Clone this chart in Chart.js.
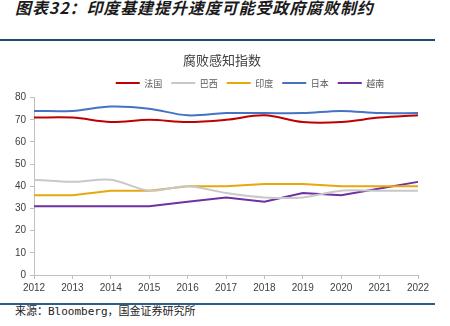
<!DOCTYPE html>
<html>
<head>
<meta charset="utf-8">
<script src="https://cdn.jsdelivr.net/npm/chart.js@4"></script>
<style>
  body { margin: 0; background: #fff; }
  #page { position: relative; width: 450px; height: 326px; overflow: hidden; }
  #head { position: absolute; left: 15px; top: -1px; font: italic bold 16px "Noto Sans CJK SC", sans-serif; letter-spacing: 0.9px; line-height: 17px; color: #1a1a1a; white-space: nowrap; }
  .rule { position: absolute; left: 0; width: 435px; height: 2px; }
  #ruleTop { top: 39px; background: #1f4a6e; }
  #ruleBottom { top: 303px; background: #2a5f8c; }
  #box { position: absolute; left: 0; top: 42px; }
  #src { position: absolute; left: 15px; top: 305px; font: 11px "DejaVu Sans Mono", "Noto Sans CJK SC", monospace; line-height: 14px; color: #222; white-space: nowrap; }
</style>
</head>
<body>
<div id="page">
  <div id="head">图表32：印度基建提升速度可能受政府腐败制约</div>
  <div class="rule" id="ruleTop"></div>
  <div id="box"><canvas id="chart" width="450" height="258"></canvas></div>
  <div class="rule" id="ruleBottom"></div>
  <div id="src">来源：Bloomberg，国金证券研究所</div>
</div>
<script>
const years = ["2012", "2013", "2014", "2015", "2016", "2017", "2018", "2019", "2020", "2021", "2022"];
const france = [71, 71, 69, 70, 69, 70, 72, 69, 69, 71, 72];
const brazil = [43, 42, 43, 38, 40, 37, 35, 35, 38, 38, 38];
const india = [36, 36, 38, 38, 40, 40, 41, 41, 40, 40, 40];
const japan = [74, 74, 76, 75, 72, 73, 73, 73, 74, 73, 73];
const vietnam = [31, 31, 31, 31, 33, 35, 33, 37, 36, 39, 42];
const yTicks = [0, 10, 20, 30, 40, 50, 60, 70, 80];

const axisColor = "#bfbfbf";
const tickFont = { family: "'Liberation Sans', Arial, sans-serif", size: 10 };

function series(label, data, color, tension) {
  return {
    label: label,
    data: data,
    borderColor: color,
    backgroundColor: color,
    borderWidth: 2,
    pointRadius: 0,
    tension: tension,
  };
}

// タイトルと凡例を横方向に少しずらす
const headerShift = {
  id: "headerShift",
  afterLayout(chart) {
    chart.titleBlock.left += 13;
    chart.titleBlock.right += 13;
    chart.legend.left += 41;
    chart.legend.right += 41;
  },
};

new Chart(document.getElementById("chart"), {
  type: "line",
  data: {
    labels: years,
    datasets: [
      series("法国", france, "#c00000", 0.35),
      series("巴西", brazil, "#c8c8c8", 0.3),
      series("印度", india, "#e6a80c", 0),
      series("日本", japan, "#4472c4", 0.35),
      series("越南", vietnam, "#7030a0", 0),
    ],
  },
  options: {
    responsive: false,
    animation: false,
    layout: { padding: { left: 0, right: 32, top: 0, bottom: 3 } },
    scales: {
      x: {
        offset: false,
        grid: { drawOnChartArea: false, color: axisColor, tickLength: 4 },
        border: { color: axisColor },
        ticks: { font: tickFont, color: "#404040", padding: 3, maxRotation: 0, autoSkip: false },
        afterFit(scale) { scale.height = 22; },
      },
      y: {
        min: 0,
        max: 80,
        afterBuildTicks(scale) { scale.ticks = yTicks.map((v) => ({ value: v })); },
        grid: { drawOnChartArea: false, color: axisColor, tickLength: 4 },
        border: { color: axisColor },
        ticks: { font: tickFont, color: "#404040", padding: 4 },
        afterFit(scale) { scale.width = 34; },
      },
    },
    plugins: {
      title: {
        display: true,
        text: "腐败感知指数",
        color: "#404040",
        font: { family: "'Noto Sans CJK SC', sans-serif", size: 13, weight: "normal" },
        padding: { top: 10, bottom: 2 },
      },
      legend: {
        labels: {
          usePointStyle: true,
          pointStyle: "line",
          pointStyleWidth: 24,
          padding: 9,
          color: "#595959",
          font: { family: "'Noto Sans CJK SC', sans-serif", size: 9 },
        },
      },
      tooltip: { enabled: false },
    },
  },
  plugins: [headerShift],
});
</script>
</body>
</html>
